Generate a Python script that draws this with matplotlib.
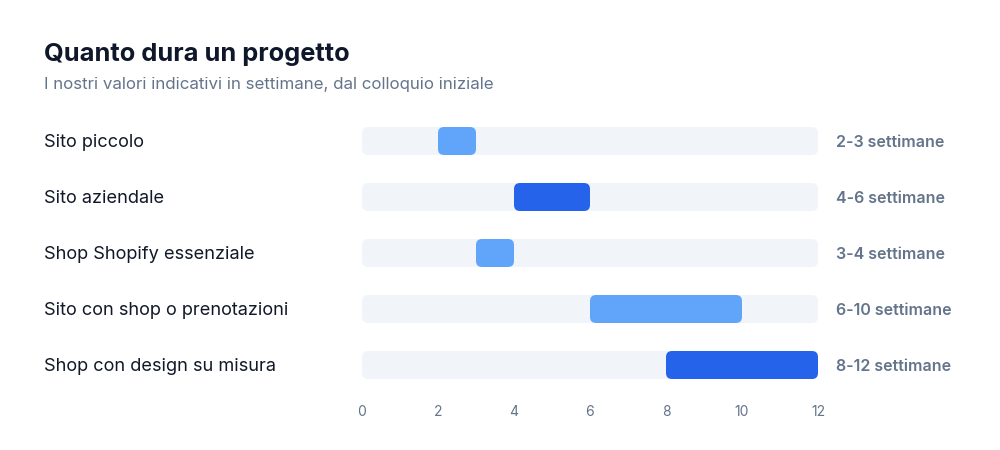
import matplotlib
matplotlib.use("Agg")
import matplotlib.pyplot as plt
from matplotlib.patches import FancyBboxPatch
import matplotlib.transforms as mtransforms

categories = ["Sito piccolo", "Sito aziendale", "Shop Shopify essenziale",
              "Sito con shop o prenotazioni", "Shop con design su misura"]
starts = [2, 4, 3, 6, 8]
ends = [3, 6, 4, 10, 12]
labels = ["2-3 settimane", "4-6 settimane", "3-4 settimane",
          "6-10 settimane", "8-12 settimane"]
emphasis = [False, True, False, False, True]
max_weeks = 12
ticks = [0, 2, 4, 6, 8, 10, 12]

plt.rcParams['font.family'] = ['Inter', 'DejaVu Sans']

W, H = 1000, 450
fig = plt.figure(figsize=(W / 100, H / 100), dpi=100)
fig.patch.set_facecolor("white")
ax_l, ax_r, ax_t, ax_b = 362, 818, 113, 393
ax = fig.add_axes([ax_l / W, 1 - ax_b / H, (ax_r - ax_l) / W, (ax_b - ax_t) / H])
ax.set_xlim(0, max_weeks)
n = len(categories)
ax.set_ylim(n - 0.5, -0.5)

px_per_x = (ax_r - ax_l) / max_weeks
px_per_y = (ax_b - ax_t) / n
radius_px = 6
r = radius_px / px_per_x
aspect = px_per_x / px_per_y
bar_h = 0.5

light = "#60A5FA"
dark = "#2563EB"
track = "#F1F5F9"

for i, (s, e) in enumerate(zip(starts, ends)):
    ax.add_patch(FancyBboxPatch((0, i - bar_h / 2), max_weeks, bar_h,
                                boxstyle=f"round,pad=0,rounding_size={r}",
                                mutation_aspect=aspect, fc=track, ec="none"))
    ax.add_patch(FancyBboxPatch((s, i - bar_h / 2), e - s, bar_h,
                                boxstyle=f"round,pad=0,rounding_size={r}",
                                mutation_aspect=aspect,
                                fc=dark if emphasis[i] else light, ec="none"))

trans_left = mtransforms.blended_transform_factory(fig.transFigure, ax.transData)
for i, c in enumerate(categories):
    ax.text(44 / W, i + 0.02, c, transform=trans_left, ha="left", va="center",
            fontsize=13.1, color="#111827")
    ax.text(836 / W, i + 0.02, labels[i], transform=trans_left, ha="left", va="center",
            fontsize=11.5, color="#64748B", fontweight="semibold")

ax.set_xticks(ticks)
ax.set_xticklabels([str(t) for t in ticks])
ax.set_yticks([])
ax.tick_params(axis="x", length=0, pad=9, labelsize=10, labelcolor="#64748B")
for sp in ax.spines.values():
    sp.set_visible(False)
ax.set_facecolor("none")

fig.text(44 / W, 1 - 54 / H, "Quanto dura un progetto", ha="left", va="center",
         fontsize=18.3, fontweight="bold", color="#0F172A")
fig.text(44 / W, 1 - 84 / H, "I nostri valori indicativi in settimane, dal colloquio iniziale",
         ha="left", va="center", fontsize=12.2, color="#64748B")

fig.savefig("out.png", dpi=100, facecolor="white")
